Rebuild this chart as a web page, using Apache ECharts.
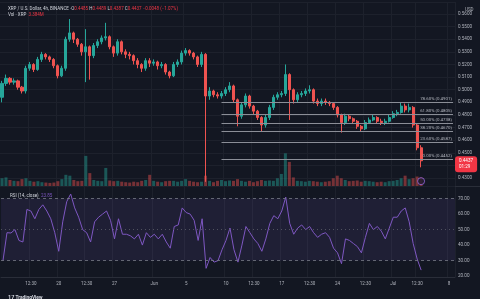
<!DOCTYPE html>
<html><head><meta charset="utf-8">
<script src="https://cdn.jsdelivr.net/npm/echarts@6/dist/echarts.min.js"></script>
<style>html,body{margin:0;padding:0;background:#131722;}#c{width:480px;height:299px;}</style>
</head><body><div id="c"></div>
<script>
// ---- data (12h candles, starting 13 May) ----
const opens=[0.494,0.505,0.509,0.506,0.507,0.502,0.499,0.517,0.520,0.516,
0.524,0.528,0.526,0.524,0.519,0.511,0.517,0.540,0.545,0.540,
0.536,0.530,0.534,0.527,0.535,0.538,0.541,0.542,0.534,0.529,
0.538,0.530,0.528,0.527,0.523,0.520,0.517,0.523,0.521,0.522,
0.519,0.520,0.514,0.511,0.520,0.522,0.529,0.531,0.529,0.526,
0.520,0.528,0.495,0.499,0.496,0.495,0.497,0.500,0.503,0.492,
0.479,0.488,0.495,0.487,0.483,0.478,0.472,0.478,0.486,0.494,
0.496,0.497,0.512,0.500,0.492,0.496,0.497,0.499,0.500,0.491,
0.489,0.491,0.490,0.489,0.486,0.480,0.474,0.479,0.477,0.475,
0.471,0.469,0.474,0.476,0.478,0.475,0.474,0.475,0.478,0.481,
0.482,0.487,0.484,0.486,0.472,0.454];
const closes=[0.505,0.509,0.506,0.507,0.502,0.499,0.517,0.520,0.516,0.524,
0.528,0.526,0.524,0.519,0.511,0.517,0.540,0.545,0.540,0.536,
0.530,0.534,0.527,0.535,0.538,0.541,0.542,0.534,0.529,0.538,
0.530,0.528,0.527,0.523,0.520,0.517,0.523,0.521,0.522,0.519,
0.520,0.514,0.511,0.520,0.522,0.529,0.531,0.529,0.526,0.520,
0.528,0.495,0.499,0.496,0.495,0.497,0.500,0.503,0.492,0.479,
0.488,0.495,0.487,0.483,0.478,0.472,0.478,0.486,0.494,0.496,
0.497,0.512,0.500,0.492,0.496,0.497,0.499,0.500,0.491,0.489,
0.491,0.490,0.489,0.486,0.480,0.474,0.479,0.477,0.475,0.471,
0.469,0.474,0.476,0.478,0.475,0.474,0.475,0.478,0.481,0.482,
0.487,0.484,0.486,0.472,0.454,0.4437];
const highs=[0.507,0.512,0.510,0.509,0.508,0.503,0.519,0.522,0.521,0.526,
0.530,0.529,0.527,0.525,0.520,0.519,0.542,0.556,0.546,0.541,
0.537,0.548,0.535,0.537,0.540,0.543,0.553,0.543,0.535,0.540,
0.539,0.532,0.530,0.528,0.525,0.521,0.525,0.525,0.524,0.523,
0.522,0.521,0.515,0.522,0.524,0.531,0.533,0.532,0.530,0.527,
0.530,0.529,0.502,0.500,0.498,0.499,0.502,0.506,0.504,0.493,
0.490,0.497,0.496,0.488,0.484,0.479,0.480,0.488,0.496,0.498,
0.499,0.520,0.513,0.501,0.498,0.499,0.501,0.5035,0.501,0.493,
0.493,0.493,0.491,0.490,0.487,0.481,0.481,0.480,0.478,0.476,
0.472,0.476,0.478,0.480,0.479,0.477,0.477,0.480,0.483,0.484,
0.4901,0.489,0.489,0.487,0.473,0.456];
const lows=[0.490,0.503,0.504,0.504,0.500,0.497,0.497,0.515,0.514,0.515,
0.522,0.524,0.522,0.517,0.509,0.510,0.515,0.538,0.537,0.534,
0.527,0.506,0.508,0.525,0.533,0.536,0.539,0.532,0.526,0.527,
0.528,0.525,0.524,0.520,0.517,0.514,0.515,0.518,0.519,0.516,
0.517,0.512,0.509,0.510,0.518,0.520,0.527,0.527,0.524,0.518,
0.518,0.427,0.492,0.494,0.493,0.493,0.495,0.498,0.490,0.471,
0.477,0.486,0.485,0.480,0.476,0.467,0.470,0.476,0.484,0.492,
0.494,0.495,0.476,0.489,0.490,0.494,0.495,0.497,0.489,0.487,
0.487,0.488,0.487,0.484,0.478,0.466,0.472,0.475,0.473,0.469,
0.467,0.468,0.473,0.475,0.473,0.472,0.472,0.474,0.477,0.479,
0.481,0.482,0.482,0.470,0.452,0.4385];
const volumes=[45,50,35,30,28,40,45,30,25,28,
22,20,18,20,28,40,65,60,35,28,
30,175,75,35,30,28,105,32,28,30,
25,22,20,25,22,30,35,65,30,25,
22,28,30,30,25,30,40,30,25,22,
25,60,30,22,30,35,28,32,30,40,
30,25,30,22,28,35,30,32,30,45,
70,190,140,50,30,28,25,30,28,25,
22,25,28,45,60,45,35,28,30,32,
25,30,28,25,22,25,22,28,30,35,
45,60,40,45,55,50];
const rsiValues=[30,48,47.8,50,43,42,63,62,57,63,
66,62,57,48,36,55,68,73,64,58,
50,48,42,55,58,60,62,56,44,57,
47,47,46,44,47,40,48,45,47,44,
47,42,38,52,53,64,61,60,56,43,
57,25,32,29,30,37,43,51,37,29,
40,52,48,44,41,36,44,54,59,57,
62,71,54,47,51,53,50,52,48,45,
47,48,45,38,35,28,44,43,41,39,
35,45,54,50,52,49,44,51,58,58,
62,64,55,41,31,23.85];
const tickIndex=[7,14,21,28,38,46,56,63,70,77,84,91,98,104,112];
const tickText=['12:30','20','12:30','27','Jun','5','10','12:30','17','12:30','24','12:30','Jul','12:30','8'];
const fibNames=['78.60%','61.80%','50.00%','38.20%','23.60%','0.00%'];
const fibValues=[0.4901,0.4805,0.4738,0.4670,0.4587,0.4452];
const fibStartIndex=55;
const lastPrice=0.4437;
const countdown='01:29';
const rsiLast=23.85;
const eventIndex=[105];
const eventLevel=[28];

// ---- layout ----
const SLOTS=114;
const cats=[];
for(let i=0;i<SLOTS;i++){const d=new Date(Date.UTC(2024,4,13)+i*43200000);cats.push(d.toISOString().slice(5,16));}
const labelAt={};tickIndex.forEach((k,j)=>labelAt[k]=tickText[j]);
const UP='#26a69a',DN='#ef5350',GRID='#1d212c',TXT='#b2b5be',FONT='Roboto';

const candleData=opens.map((o,i)=>[o,closes[i],lows[i],highs[i]]);
const volData=volumes.map((v,i)=>({value:v,itemStyle:{color:closes[i]>=opens[i]?'rgba(38,166,154,0.45)':'rgba(239,83,80,0.45)'}}));

const fibLines=fibValues.map((v,j)=>[
  {coord:[fibStartIndex,v],lineStyle:{color:'#8b8e97',width:1,type:'solid'},
   label:{show:true,position:'insideEndTop',distance:1,color:TXT,fontSize:4.4,fontFamily:FONT,
          formatter:fibNames[j]+' ('+v.toFixed(4)+')'}},
  {coord:[SLOTS-1,v]}
]);

const chart=echarts.init(document.getElementById('c'),null,{renderer:'canvas'});
chart.setOption({
  animation:false,
  backgroundColor:'#131722',
  title:[
    {left:3,top:1,textStyle:{fontSize:4.5,fontFamily:FONT,fontWeight:'normal',color:'#d1d4dc',
      rich:{a:{fontSize:4.5,color:'#d1d4dc',fontFamily:FONT},k:{fontSize:4.5,color:'#d1d4dc',fontFamily:FONT},v:{fontSize:4.5,color:'#f23645',fontFamily:FONT}}},
     text:'{a|XRP / U.S. Dollar, 4h, BINANCE} {k|·O}{v|0.4485} {k|H}{v|0.4489} {k|L}{v|0.4387} {k|C}{v|0.4437} {v|−0.0048 (−1.07%)}'},
    {left:3,top:7.5,textStyle:{fontSize:4.5,fontFamily:FONT,fontWeight:'normal',color:'#d1d4dc',
      rich:{a:{fontSize:4.5,color:'#d1d4dc',fontFamily:FONT},v:{fontSize:4.5,color:'#f23645',fontFamily:FONT}}},
     text:'{a|Vol · XRP}  {v|3.384M}'},
    {left:5,top:188.5,textStyle:{fontSize:4.5,fontFamily:FONT,fontWeight:'normal',color:'#d1d4dc',
      rich:{a:{fontSize:4.5,color:'#d1d4dc',fontFamily:FONT},v:{fontSize:4.5,color:'#7e57c2',fontFamily:FONT}}},
     text:'{a|RSI (14, close)}  {v|'+rsiLast.toFixed(2)+'}'},
    {left:460,top:2,textStyle:{fontSize:4.5,fontFamily:FONT,fontWeight:'normal',color:TXT},text:'USD'},
    {left:3,top:290,textStyle:{fontSize:5,fontFamily:FONT,fontWeight:'bold',color:'#d1d4dc',
      rich:{l:{fontSize:5.5,fontWeight:'bold',color:'#d1d4dc',fontFamily:FONT},t:{fontSize:4.8,color:'#d1d4dc',fontFamily:FONT}}},
     text:'{l|17}{t| TradingView}'}
  ],
  graphic:[
    {type:'line',shape:{x1:0,y1:186.5,x2:480,y2:186.5},style:{stroke:'#2a2e39',lineWidth:1},silent:true}
  ],
  grid:[
    {left:0,right:25,top:2,bottom:113,containLabel:false},
    {left:0,right:25,top:100,bottom:113,containLabel:false},
    {left:0,right:25,top:187,bottom:22,containLabel:false}
  ],
  xAxis:[
    {type:'category',gridIndex:0,data:cats,boundaryGap:true,axisLine:{show:false},axisTick:{show:false},axisLabel:{show:false},
     splitLine:{show:true,interval:(idx)=>labelAt[idx]!==undefined,lineStyle:{color:GRID,width:1}}},
    {type:'category',gridIndex:1,data:cats,boundaryGap:true,show:false},
    {type:'category',gridIndex:2,data:cats,boundaryGap:true,axisLine:{show:true,lineStyle:{color:'#2a2e39'}},axisTick:{show:false},
     axisLabel:{show:true,interval:0,margin:4,color:TXT,fontSize:4.5,fontFamily:FONT,formatter:(v,idx)=>labelAt[idx]||''},
     splitLine:{show:true,interval:(idx)=>labelAt[idx]!==undefined,lineStyle:{color:GRID,width:1}}}
  ],
  yAxis:[
    {type:'value',gridIndex:0,position:'right',min:0.4237,max:0.5695,splitNumber:14,minInterval:0.01,maxInterval:0.01,
     axisLine:{show:false},axisTick:{show:false},
     axisLabel:{show:true,margin:3,color:TXT,fontSize:4.6,fontFamily:FONT,showMinLabel:false,showMaxLabel:false,formatter:v=>v.toFixed(4)},
     splitLine:{show:true,lineStyle:{color:GRID,width:1}},
     axisPointer:{show:true,value:lastPrice,status:'show',snap:false,triggerTooltip:false,type:'line',
       lineStyle:{color:'transparent',width:0},
       label:{show:true,margin:0,padding:[2,4,2,4],backgroundColor:'#f23645',color:'#fff',
         fontSize:4.6,fontFamily:FONT,lineHeight:6,
         formatter:()=>lastPrice.toFixed(4)+'\n'+countdown}}},
    {type:'value',gridIndex:1,min:0,max:500,show:false},
    {type:'value',gridIndex:2,position:'right',min:19.4,max:77.5,splitNumber:6,minInterval:10,maxInterval:10,
     axisLine:{show:false},axisTick:{show:false},
     axisLabel:{show:true,margin:3,color:TXT,fontSize:4.6,fontFamily:FONT,showMinLabel:false,showMaxLabel:false,formatter:v=>v.toFixed(2)},
     splitLine:{show:false}}
  ],
  series:[
    {type:'bar',name:'Volume',xAxisIndex:1,yAxisIndex:1,data:volData,barWidth:3,z:1},
    {type:'candlestick',name:'XRPUSD',xAxisIndex:0,yAxisIndex:0,data:candleData,barWidth:2.6,z:3,
     itemStyle:{color:UP,color0:DN,borderColor:UP,borderColor0:DN,borderWidth:1},
     markLine:{symbol:'none',silent:true,animation:false,data:fibLines}},
    {type:'scatter',name:'events',xAxisIndex:1,yAxisIndex:1,z:5,symbol:'circle',symbolSize:7,
     data:eventIndex.map((k,j)=>[k,eventLevel[j]]),
     itemStyle:{color:'#1e1b2e',borderColor:'#9c6ade',borderWidth:1}},
    {type:'line',name:'RSI',xAxisIndex:2,yAxisIndex:2,data:rsiValues,symbol:'none',smooth:false,
     lineStyle:{color:'#7e57c2',width:1},z:3,
     markArea:{silent:true,itemStyle:{color:'rgba(126,87,194,0.12)'},data:[[{yAxis:30},{yAxis:70}]]},
     markLine:{symbol:'none',silent:true,label:{show:false},
       data:[{yAxis:70,lineStyle:{color:'#787b86',type:[3,3],width:0.8}},
             {yAxis:50,lineStyle:{color:'#5d606b',type:[1,3],width:0.8}},
             {yAxis:30,lineStyle:{color:'#787b86',type:[3,3],width:0.8}}]}}
  ]
});
</script></body></html>
